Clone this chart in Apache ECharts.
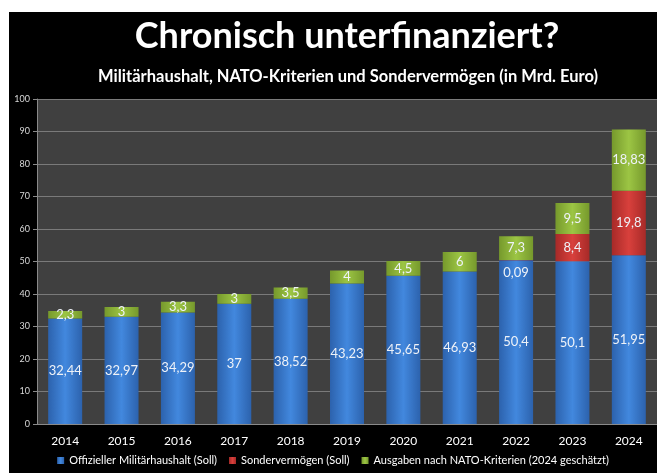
<!DOCTYPE html>
<html>
<head>
<meta charset="utf-8">
<script src="https://cdn.jsdelivr.net/npm/echarts@6/dist/echarts.min.js"></script>
<style>
html,body{margin:0;padding:0;background:#fff;width:657px;height:473px;overflow:hidden;}
#c{position:absolute;left:9px;top:12px;width:648px;height:461px;background:#000;}
</style>
</head>
<body>
<div id="c"></div>
<script>
const years = ['2014','2015','2016','2017','2018','2019','2020','2021','2022','2023','2024'];
const haushalt = [32.44, 32.97, 34.29, 37, 38.52, 43.23, 45.65, 46.93, 50.4, 50.1, 51.95];
const sonder = [null, null, null, null, null, null, null, null, 0.09, 8.4, 19.8];
const nato = [2.3, 3, 3.3, 3, 3.5, 4, 4.5, 6, 7.3, 9.5, 18.83];
const yTicks = [0, 10, 20, 30, 40, 50, 60, 70, 80, 90, 100];
const names = ['Offizieller Militärhaushalt (Soll)', 'Sondervermögen (Soll)', 'Ausgaben nach NATO-Kriterien (2024 geschätzt)'];

const FONT = 'Lato';
function grad(edge, mid) {
  return new echarts.graphic.LinearGradient(0, 0, 1, 0, [
    {offset: 0, color: edge}, {offset: 0.5, color: mid}, {offset: 1, color: edge}
  ]);
}
const fmt = p => (p.value == null ? '' : String(p.value).replace('.', ','));
const lbl = {show: true, position: 'inside', color: '#eef2f8', fontFamily: FONT, fontSize: 13, formatter: fmt};

const chart = echarts.init(document.getElementById('c'), null, {renderer: 'canvas'});
chart.setOption({
  backgroundColor: '#000',
  animation: false,
  title: [
    {text: 'Chronisch unterfinanziert?', left: 333, top: 1, textAlign: 'center',
     textStyle: {color: '#fff', fontFamily: FONT, fontWeight: 'bold', fontSize: 36}},
    {text: 'Militärhaushalt, NATO-Kriterien und Sondervermögen (in Mrd. Euro)', left: 334, top: 51, textAlign: 'center',
     textStyle: {color: '#fff', fontFamily: FONT, fontWeight: 'bold', fontSize: 16.5}}
  ],
  legend: {
    bottom: 2, left: 'center', padding: [5, 0, 5, 26], orient: 'horizontal',
    icon: 'rect', itemWidth: 7, itemHeight: 7, itemGap: 12,
    textStyle: {color: '#fff', fontFamily: FONT, fontSize: 11},
    data: names
  },
  grid: {left: 28, right: 0, top: 87, bottom: 49, show: true, backgroundColor: '#404040', borderWidth: 0, containLabel: false},
  xAxis: {
    type: 'category', data: years,
    axisLine: {lineStyle: {color: '#8a8a8a'}},
    axisTick: {show: false},
    axisLabel: {color: '#fff', fontFamily: FONT, fontSize: 12, margin: 11}
  },
  yAxis: {
    type: 'value', min: yTicks[0], max: yTicks[yTicks.length - 1], interval: 10,
    axisLine: {show: true, lineStyle: {color: '#8a8a8a'}},
    axisTick: {show: true, length: 4, lineStyle: {color: '#8a8a8a'}},
    axisLabel: {color: '#d8d8d8', fontFamily: FONT, fontSize: 9, margin: 7},
    splitLine: {lineStyle: {color: '#7a7a7a', width: 1}}
  },
  series: [
    {name: names[0], type: 'bar', stack: 's', barWidth: 34,
     itemStyle: {color: grad('#2c62ad', '#4288de')},
     label: lbl, data: haushalt},
    {name: names[1], type: 'bar', stack: 's', barWidth: 34,
     itemStyle: {color: grad('#a72a28', '#d8403c')},
     label: lbl,
     data: sonder.map((v, i) => (v != null && v < 1 ? {value: v, label: {offset: [0, 13]}} : v))},
    {name: names[2], type: 'bar', stack: 's', barWidth: 34,
     itemStyle: {color: grad('#76992c', '#9cc544')},
     label: lbl, data: nato}
  ]
});
</script>
</body>
</html>
